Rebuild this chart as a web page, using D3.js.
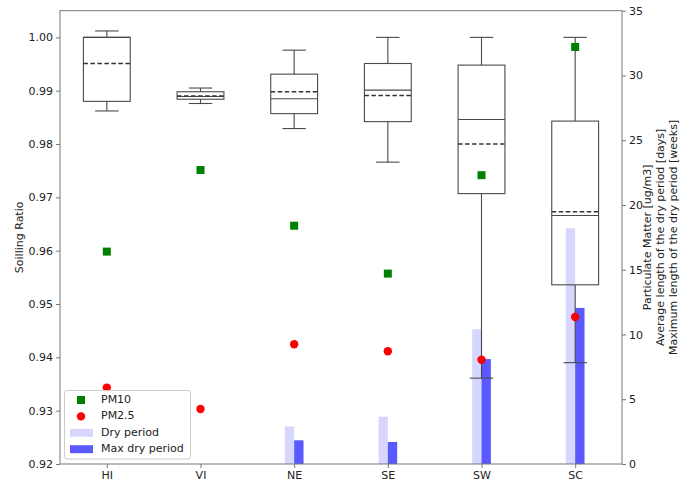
<!DOCTYPE html>
<html><head><meta charset="utf-8">
<script src="https://cdn.jsdelivr.net/npm/d3@7"></script>
<style>body{margin:0;background:#fff;font-family:"DejaVu Sans",sans-serif;}</style>
</head><body><svg id="c" width="700" height="481"></svg>
<script>
const categories = ["HI","VI","NE","SE","SW","SC"];
const whiskerLow  = [0.9862,0.9876,0.9829,0.9766,0.9361,0.9390];
const q1          = [0.9880,0.9884,0.9857,0.9842,0.9707,0.9536];
const median      = [1.0000,0.9889,0.9885,0.9901,0.9846,0.9666];
const q3          = [1.0000,0.9898,0.9931,0.9951,0.9948,0.9843];
const whiskerHigh = [1.0012,0.9905,0.9976,1.0000,1.0000,1.0000];
const meanVal     = [0.9951,0.9890,0.9898,0.9891,0.9800,0.9673];
const pm10        = [16.4,22.7,18.4,14.7,22.3,32.2];
const pm25        = [5.9,4.25,9.25,8.7,8.05,11.35];
const dryPeriod   = [0,0,2.9,3.65,10.4,18.2];
const maxDryPeriod= [0,0,1.83,1.7,8.1,12.05];
const leftTicks   = [0.92,0.93,0.94,0.95,0.96,0.97,0.98,0.99,1.00];
const rightTicks  = [0,5,10,15,20,25,30,35];

const svg = d3.select("#c");
const L=60, R=622, T=10.7, B=464;
const x = d3.scalePoint().domain(categories).range([L,R]).padding(0.5);
const step = x.step();
const yL = d3.scaleLinear().domain([0.92,1.005]).range([B,T]);
const yR = d3.scaleLinear().domain([0,35]).range([B,T]);
const textCol="#222";

// bars
const g = svg.append("g");
g.selectAll("rect.dry").data(categories).join("rect")
  .attr("x",d=>x(d)-0.1*step).attr("width",0.1*step)
  .attr("y",(d,i)=>yR(dryPeriod[i])).attr("height",(d,i)=>B-yR(dryPeriod[i]))
  .attr("fill","blue").attr("fill-opacity",0.16);
g.selectAll("rect.max").data(categories).join("rect")
  .attr("x",d=>x(d)).attr("width",0.1*step)
  .attr("y",(d,i)=>yR(maxDryPeriod[i])).attr("height",(d,i)=>B-yR(maxDryPeriod[i]))
  .attr("fill","blue").attr("fill-opacity",0.65);

// boxes
const bw = 0.5*step, cw = 0.25*step;
const boxCol="#4a4a4a";
categories.forEach((c,i)=>{
  const cx = x(c);
  const bg = svg.append("g").attr("stroke",boxCol).attr("stroke-width",1.1).attr("fill","none");
  bg.append("line").attr("x1",cx).attr("x2",cx).attr("y1",yL(whiskerHigh[i])).attr("y2",yL(q3[i]));
  bg.append("line").attr("x1",cx).attr("x2",cx).attr("y1",yL(whiskerLow[i])).attr("y2",yL(q1[i]));
  bg.append("line").attr("x1",cx-cw/2).attr("x2",cx+cw/2).attr("y1",yL(whiskerHigh[i])).attr("y2",yL(whiskerHigh[i]));
  bg.append("line").attr("x1",cx-cw/2).attr("x2",cx+cw/2).attr("y1",yL(whiskerLow[i])).attr("y2",yL(whiskerLow[i]));
  bg.append("rect").attr("x",cx-bw/2).attr("width",bw).attr("y",yL(q3[i])).attr("height",yL(q1[i])-yL(q3[i]));
  bg.append("line").attr("x1",cx-bw/2).attr("x2",cx+bw/2).attr("y1",yL(median[i])).attr("y2",yL(median[i]));
  bg.append("line").attr("x1",cx-bw/2).attr("x2",cx+bw/2).attr("y1",yL(meanVal[i])).attr("y2",yL(meanVal[i]))
    .attr("stroke","#333").attr("stroke-width",1.6).attr("stroke-dasharray","4.5,2.5");
});

// points
svg.selectAll("rect.pm10").data(categories).join("rect")
  .attr("x",d=>x(d)-4).attr("y",(d,i)=>yR(pm10[i])-4).attr("width",8).attr("height",8).attr("fill","#008000");
svg.selectAll("circle.pm25").data(categories).join("circle")
  .attr("cx",d=>x(d)).attr("cy",(d,i)=>yR(pm25[i])).attr("r",4.2).attr("fill","#ff0000");

// frame
svg.append("rect").attr("x",L).attr("y",T).attr("width",R-L).attr("height",B-T)
  .attr("fill","none").attr("stroke","#777").attr("stroke-width",1);

// axes
const axL = svg.append("g").attr("transform",`translate(${L},0)`)
  .call(d3.axisLeft(yL).tickValues(leftTicks).tickFormat(d3.format(".2f")).tickSize(4).tickPadding(3));
const axR = svg.append("g").attr("transform",`translate(${R},0)`)
  .call(d3.axisRight(yR).tickValues(rightTicks).tickSize(4).tickPadding(3));
const axB = svg.append("g").attr("transform",`translate(0,${B})`)
  .call(d3.axisBottom(x).tickSize(4).tickPadding(3));
[axL,axR,axB].forEach(a=>{
  a.select(".domain").remove();
  a.selectAll(".tick line").attr("stroke","#777");
  a.selectAll("text").attr("fill",textCol).style("font-size","11px").style("font-family","DejaVu Sans");
});

// axis labels
svg.append("text").attr("transform",`translate(20,${(T+B)/2}) rotate(-90)`)
  .attr("text-anchor","middle").attr("dominant-baseline","middle")
  .style("font-size","11px").attr("fill",textCol).text("Soilling Ratio");
const rl = ["Particulate Matter [ug/m3]","Average length of the dry period [days]","Maximum length of the dry period [weeks]"];
rl.forEach((t,i)=>{
  svg.append("text").attr("transform",`translate(${648+i*12.8},${(T+B)/2}) rotate(-90)`)
    .attr("text-anchor","middle").attr("dominant-baseline","middle")
    .style("font-size","11px").attr("fill",textCol).text(t);
});

// legend
const lg = svg.append("g");
lg.append("rect").attr("x",64.5).attr("y",390.5).attr("width",126).attr("height",68.5).attr("rx",2.5)
  .attr("fill","#fff").attr("fill-opacity",0.8).attr("stroke","#ccc");
const items = [
  {label:"PM10", type:"sq"},
  {label:"PM2.5", type:"ci"},
  {label:"Dry period", type:"dry"},
  {label:"Max dry period", type:"max"}];
items.forEach((it,i)=>{
  const yy = 400 + i*16.4;
  if(it.type==="sq") lg.append("rect").attr("x",77).attr("y",yy-4).attr("width",8).attr("height",8).attr("fill","#008000");
  if(it.type==="ci") lg.append("circle").attr("cx",81).attr("cy",yy).attr("r",4.2).attr("fill","#ff0000");
  if(it.type==="dry") lg.append("rect").attr("x",70).attr("y",yy-4).attr("width",23).attr("height",8).attr("fill","blue").attr("fill-opacity",0.16);
  if(it.type==="max") lg.append("rect").attr("x",70).attr("y",yy-4).attr("width",23).attr("height",8).attr("fill","blue").attr("fill-opacity",0.65);
  lg.append("text").attr("x",101).attr("y",yy).attr("dominant-baseline","middle")
    .style("font-size","11px").attr("fill",textCol).text(it.label);
});
</script></body></html>
